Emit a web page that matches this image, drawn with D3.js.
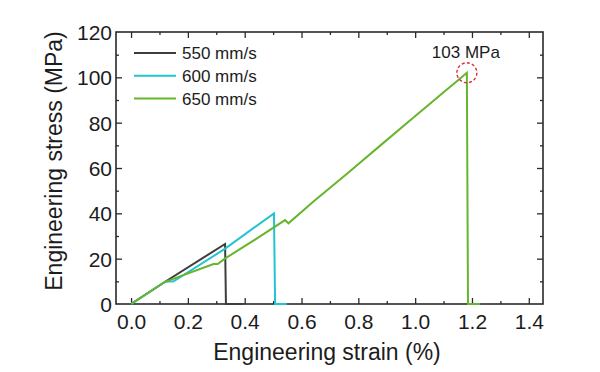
<!DOCTYPE html>
<html>
<head>
<meta charset="utf-8">
<script src="https://cdn.jsdelivr.net/npm/d3@7"></script>
<style>
  body { margin: 0; background: #fff; }
  svg { display: block; font-family: Arial, "Liberation Sans", sans-serif; }
</style>
</head>
<body>
<svg id="chart" width="600" height="372"></svg>
<script>
// ---- data ----
const seriesNames = ["550 mm/s", "600 mm/s", "650 mm/s"];
const strain550 = [0.00, 0.12, 0.331, 0.334, 0.395];
const stress550 = [0.0, 9.8, 26.5, 0.0, 0.0];
const strain600 = [0.00, 0.12, 0.15, 0.33, 0.503, 0.507, 0.548];
const stress600 = [0.0, 9.8, 10.0, 24.3, 40.0, 0.0, 0.0];
const strain650 = [0.00, 0.12, 0.29, 0.305, 0.33, 0.45, 0.542, 0.554, 0.64, 0.76, 0.88, 0.99, 1.05, 1.10, 1.15, 1.182, 1.186, 1.229];
const stress650 = [0.0, 9.8, 17.6, 17.6, 20.0, 29.5, 37.0, 35.6, 45.0, 57.5, 70.2, 81.8, 88.1, 93.4, 98.6, 102.0, 0.0, 0.0];
const xTicks = [0.0, 0.2, 0.4, 0.6, 0.8, 1.0, 1.2, 1.4];
const xMinorTicks = [-0.1, 0.1, 0.3, 0.5, 0.7, 0.9, 1.1, 1.3];
const yTicks = [0, 20, 40, 60, 80, 100, 120];
const yMinorTicks = [10, 30, 50, 70, 90, 110];
const peakLabel = "103 MPa";
const peakPoint = [1.182, 102.0];
const xTitle = "Engineering strain (%)";
const yTitle = "Engineering stress (MPa)";

// ---- layout / style ----
const colors = ["#3d3d3d", "#22c3d3", "#67b52c"];
const L = 116, R = 543, T = 32, B = 304;
const svg = d3.select("#chart");

const x = d3.scaleLinear().domain([-0.053, 1.45]).range([L, R]);
const y = d3.scaleLinear().domain([0, 120]).range([B, T]);

const axisColor = "#2a2a2a";
const textColor = "#1c1c1c";

function styleAxis(g) {
  g.select(".domain").remove();
  g.selectAll(".tick line").attr("stroke", axisColor).attr("stroke-width", 1.3);
}

const fmtX = d3.format(".1f");
// bottom
svg.append("g").attr("transform", `translate(0,${B})`)
  .call(d3.axisBottom(x).tickValues(xMinorTicks.filter(v => x(v) > L)).tickSize(-3).tickFormat(""))
  .call(styleAxis);
const bx = svg.append("g").attr("transform", `translate(0,${B})`)
  .call(d3.axisBottom(x).tickValues(xTicks).tickSize(-6).tickFormat(fmtX))
  .call(styleAxis);
bx.selectAll(".tick text").attr("y", 25).attr("dy", 0)
  .attr("font-size", 21).attr("fill", textColor).attr("font-family", "Arial, 'Liberation Sans', sans-serif");
// top
svg.append("g").attr("transform", `translate(0,${T})`)
  .call(d3.axisTop(x).tickValues(xMinorTicks.filter(v => x(v) > L)).tickSize(-3).tickFormat(""))
  .call(styleAxis);
svg.append("g").attr("transform", `translate(0,${T})`)
  .call(d3.axisTop(x).tickValues(xTicks).tickSize(-6).tickFormat(""))
  .call(styleAxis);
// left
svg.append("g").attr("transform", `translate(${L},0)`)
  .call(d3.axisLeft(y).tickValues(yMinorTicks).tickSize(-3).tickFormat(""))
  .call(styleAxis);
const ly = svg.append("g").attr("transform", `translate(${L},0)`)
  .call(d3.axisLeft(y).tickValues(yTicks.filter(v => v > 0 && v < 120)).tickSize(-6).tickFormat(d3.format("d")))
  .call(styleAxis);
ly.selectAll(".tick text").attr("x", -4).attr("dy", "0.36em")
  .attr("font-size", 21).attr("fill", textColor).attr("font-family", "Arial, 'Liberation Sans', sans-serif");
svg.append("g").selectAll("text").data([0, 120]).join("text")
  .attr("x", L - 4).attr("y", d => y(d)).attr("dy", "0.36em")
  .attr("text-anchor", "end").attr("font-size", 21).attr("fill", textColor)
  .text(d => d);
// right
svg.append("g").attr("transform", `translate(${R},0)`)
  .call(d3.axisRight(y).tickValues(yMinorTicks).tickSize(-3).tickFormat(""))
  .call(styleAxis);
svg.append("g").attr("transform", `translate(${R},0)`)
  .call(d3.axisRight(y).tickValues(yTicks.filter(v => v > 0 && v < 120)).tickSize(-6).tickFormat(""))
  .call(styleAxis);

// frame
svg.append("rect").attr("x", L).attr("y", T).attr("width", R - L).attr("height", B - T)
  .attr("fill", "none").attr("stroke", axisColor).attr("stroke-width", 1.6);

// data lines
const series = [
  strain550.map((s, i) => [s, stress550[i]]),
  strain600.map((s, i) => [s, stress600[i]]),
  strain650.map((s, i) => [s, stress650[i]])
];
const line = d3.line().x(d => x(d[0])).y(d => y(d[1]));
svg.append("g").selectAll("path").data(series).join("path")
  .attr("d", line).attr("fill", "none")
  .attr("stroke", (d, i) => colors[i]).attr("stroke-width", 2)
  .attr("stroke-linejoin", "miter");

// peak annotation
svg.append("circle").attr("cx", x(peakPoint[0])).attr("cy", y(peakPoint[1])).attr("r", 10)
  .attr("fill", "none").attr("stroke", "#e02a3a").attr("stroke-width", 1.4)
  .attr("stroke-dasharray", "3,2.2");
svg.append("text").attr("x", x(peakPoint[0]) - 1).attr("y", 58)
  .attr("text-anchor", "middle").attr("font-size", 17).attr("fill", textColor)
  .text(peakLabel);

// legend
const lg = svg.append("g");
seriesNames.forEach((name, i) => {
  const yy = 53 + i * 22.7;
  lg.append("line").attr("x1", 134).attr("x2", 176).attr("y1", yy).attr("y2", yy)
    .attr("stroke", colors[i]).attr("stroke-width", 2);
  lg.append("text").attr("x", 182).attr("y", yy).attr("dy", "0.36em")
    .attr("font-size", 17).attr("fill", textColor).text(name);
});

// axis titles
svg.append("text").attr("x", 327).attr("y", 360).attr("text-anchor", "middle")
  .attr("font-size", 23).attr("fill", textColor).text(xTitle);
svg.append("text").attr("transform", "translate(62,161) rotate(-90)")
  .attr("text-anchor", "middle").attr("font-size", 23).attr("fill", textColor).text(yTitle);
</script>
</body>
</html>
